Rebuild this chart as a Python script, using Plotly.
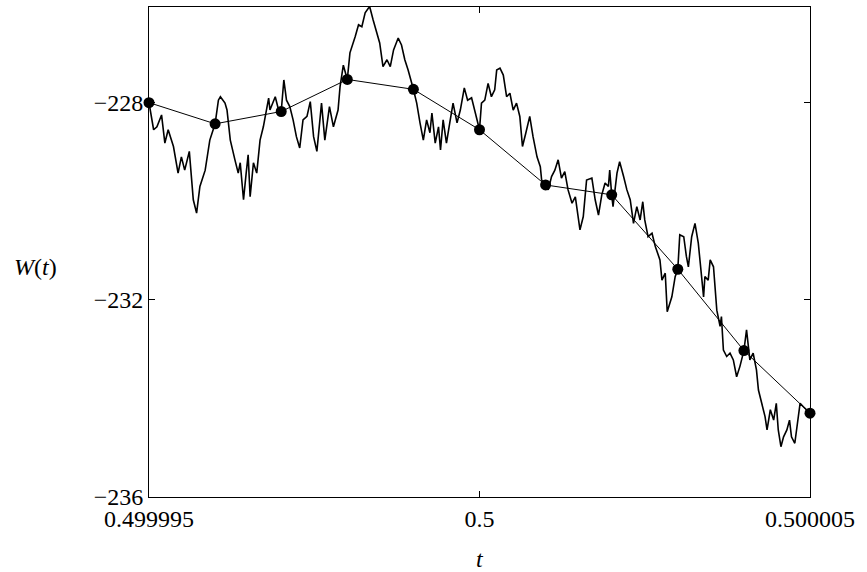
import plotly.graph_objects as go

# tid som avvik fra 0.5, i enheter av 1e-6
fin_t = [
    -5.00, -4.93, -4.88, -4.81, -4.76, -4.71, -4.63, -4.56, -4.51, -4.46, -4.39, -4.33, -4.28, -4.23, -4.15, -4.08,
    -4.00, -3.95, -3.92, -3.85, -3.82, -3.77, -3.70, -3.65, -3.62, -3.57, -3.53, -3.50, -3.47, -3.42, -3.37, -3.32,
    -3.27, -3.22, -3.19, -3.17, -3.09, -3.04,
    -3.00, -2.96, -2.92, -2.87, -2.82, -2.77, -2.72, -2.67, -2.61, -2.56, -2.51, -2.46, -2.39, -2.34, -2.27, -2.21,
    -2.14, -2.11, -2.06,
    -2.00, -1.96, -1.88, -1.83, -1.78, -1.73, -1.68, -1.66, -1.61, -1.56, -1.51, -1.46, -1.40, -1.35, -1.30, -1.23,
    -1.18, -1.13, -1.08,
    -1.00, -0.95, -0.90, -0.85, -0.80, -0.75, -0.72, -0.67, -0.62, -0.59, -0.55, -0.50, -0.45, -0.40, -0.34, -0.29,
    -0.23, -0.18, -0.12, -0.07, -0.04,
    0.00, 0.03, 0.08, 0.13, 0.18, 0.23, 0.26, 0.31, 0.36, 0.41, 0.46, 0.51, 0.56, 0.61, 0.65, 0.70, 0.76, 0.81,
    0.87, 0.92, 0.94,
    1.00, 1.04, 1.09, 1.14, 1.19, 1.24, 1.29, 1.34, 1.40, 1.45, 1.52, 1.57, 1.62, 1.70, 1.75, 1.80, 1.85, 1.90,
    1.95, 1.97,
    2.00, 2.02, 2.08, 2.12, 2.18, 2.23, 2.28, 2.33, 2.38, 2.43, 2.47, 2.50, 2.55, 2.61, 2.66, 2.73, 2.76, 2.81,
    2.84, 2.91, 2.96,
    3.00, 3.03, 3.09, 3.13, 3.16, 3.21, 3.26, 3.31, 3.36, 3.39, 3.41, 3.46, 3.49, 3.54, 3.59, 3.64, 3.66, 3.69,
    3.74, 3.79, 3.84, 3.89, 3.94,
    4.00, 4.04, 4.09, 4.14, 4.19, 4.22, 4.27, 4.32, 4.35, 4.40, 4.45, 4.49, 4.52, 4.56, 4.60, 4.65, 4.69, 4.72,
    4.77, 4.81, 4.85, 4.90, 5.00,
]
fin_w = [
    -228.00, -228.55, -228.49, -228.25, -228.82, -228.55, -228.89, -229.43, -229.10, -229.37, -228.99, -229.97,
    -230.24, -229.70, -229.37, -228.76,
    -228.43, -227.95, -227.88, -228.01, -228.15, -228.76, -229.16, -229.43, -229.22, -229.97, -229.43, -229.06,
    -229.91, -229.22, -229.43, -228.76, -228.49, -228.08, -227.91, -228.15, -227.88, -228.15,
    -228.18, -227.54, -227.95, -228.08, -228.35, -228.69, -228.92, -228.35, -228.28, -227.98, -228.69, -228.99,
    -228.01, -228.76, -228.08, -228.49, -228.15, -227.68, -227.24,
    -227.53, -226.99, -226.66, -226.42, -226.46, -226.18, -226.08, -226.06, -226.32, -226.53, -226.79, -227.27,
    -227.13, -227.27, -226.93, -226.69, -226.83, -227.13, -227.34,
    -227.73, -228.01, -228.41, -228.76, -228.35, -228.61, -228.21, -228.82, -228.49, -228.96, -228.35, -228.82,
    -228.41, -228.01, -228.41, -228.15, -227.70, -227.95, -227.90, -228.18, -228.35,
    -228.55, -228.01, -227.95, -227.61, -227.88, -227.74, -227.34, -227.30, -227.44, -227.88, -227.81, -228.15,
    -228.01, -228.28, -228.89, -228.62, -228.28, -228.69, -229.10, -229.30, -229.57,
    -229.67, -229.77, -229.50, -229.37, -229.16, -229.53, -229.40, -229.77, -230.04, -229.91, -230.58, -230.31,
    -229.57, -229.53, -229.97, -230.28, -229.87, -229.63, -229.70, -229.37,
    -229.87, -230.11, -229.43, -229.20, -229.50, -229.77, -229.97, -230.45, -230.11, -230.38, -230.01, -230.38,
    -230.72, -230.65, -230.92, -231.19, -231.60, -231.46, -232.24, -231.94, -231.53,
    -231.38, -230.68, -230.72, -231.12, -231.33, -230.72, -230.45, -230.85, -231.60, -231.94, -231.53, -231.60,
    -231.19, -231.33, -232.21, -232.54, -232.34, -233.02, -233.15, -233.08, -233.22, -233.56, -233.35,
    -233.03, -232.61, -233.22, -233.08, -233.42, -233.83, -234.10, -234.37, -234.64, -234.23, -234.44, -234.10,
    -234.64, -234.98, -234.78, -234.64, -234.44, -234.78, -234.91, -234.50, -234.10, -234.17, -234.30,
]

grov_t = [-5, -4, -3, -2, -1, 0, 1, 2, 3, 4, 5]
grov_w = [-228.00, -228.43, -228.18, -227.53, -227.73, -228.55, -229.67, -229.87, -231.38, -233.03, -234.30]

x_ticks = [0.499995, 0.5, 0.500005]
x_ticktext = ["0.499995", "0.5", "0.500005"]
y_ticks = [-228, -232, -236]
y_ticktext = ["\u2212228", "\u2212232", "\u2212236"]

SKRIFT = "'Liberation Serif', 'DejaVu Serif', serif"

fig = go.Figure()
fig.add_trace(go.Scatter(
    x=[0.5 + v * 1e-6 for v in fin_t], y=fin_w, mode="lines",
    line=dict(color="black", width=1.6), showlegend=False,
))
fig.add_trace(go.Scatter(
    x=[0.5 + v * 1e-6 for v in grov_t], y=grov_w, mode="lines+markers",
    line=dict(color="black", width=1), marker=dict(color="black", size=11),
    cliponaxis=False, showlegend=False,
))

akse = dict(showgrid=False, zeroline=False, showline=True, linecolor="black", linewidth=1,
            mirror="allticks", ticks="inside", ticklen=6, tickcolor="black")
fig.update_xaxes(range=[0.499995, 0.500005], tickvals=x_ticks, ticktext=x_ticktext, **akse)
fig.update_yaxes(range=[-236, -226.06], tickvals=y_ticks, ticktext=y_ticktext, **akse)

fig.add_annotation(text="<i>W</i>(<i>t</i>)", xref="paper", yref="paper", x=-0.171, y=0.47,
                   xanchor="center", yanchor="middle", showarrow=False,
                   font=dict(family=SKRIFT, size=24, color="black"))
fig.add_annotation(text="<i>t</i>", xref="paper", yref="paper", x=0.5, y=-0.095,
                   xanchor="center", yanchor="top", showarrow=False,
                   font=dict(family=SKRIFT, size=24, color="black"))

fig.update_layout(
    width=867, height=572,
    margin=dict(l=149, r=57, t=7, b=75),
    plot_bgcolor="white", paper_bgcolor="white",
    font=dict(family=SKRIFT, size=24, color="black"),
)
fig.write_html("out.html", config={"displayModeBar": False},
               post_script="document.body.style.margin='0';")
